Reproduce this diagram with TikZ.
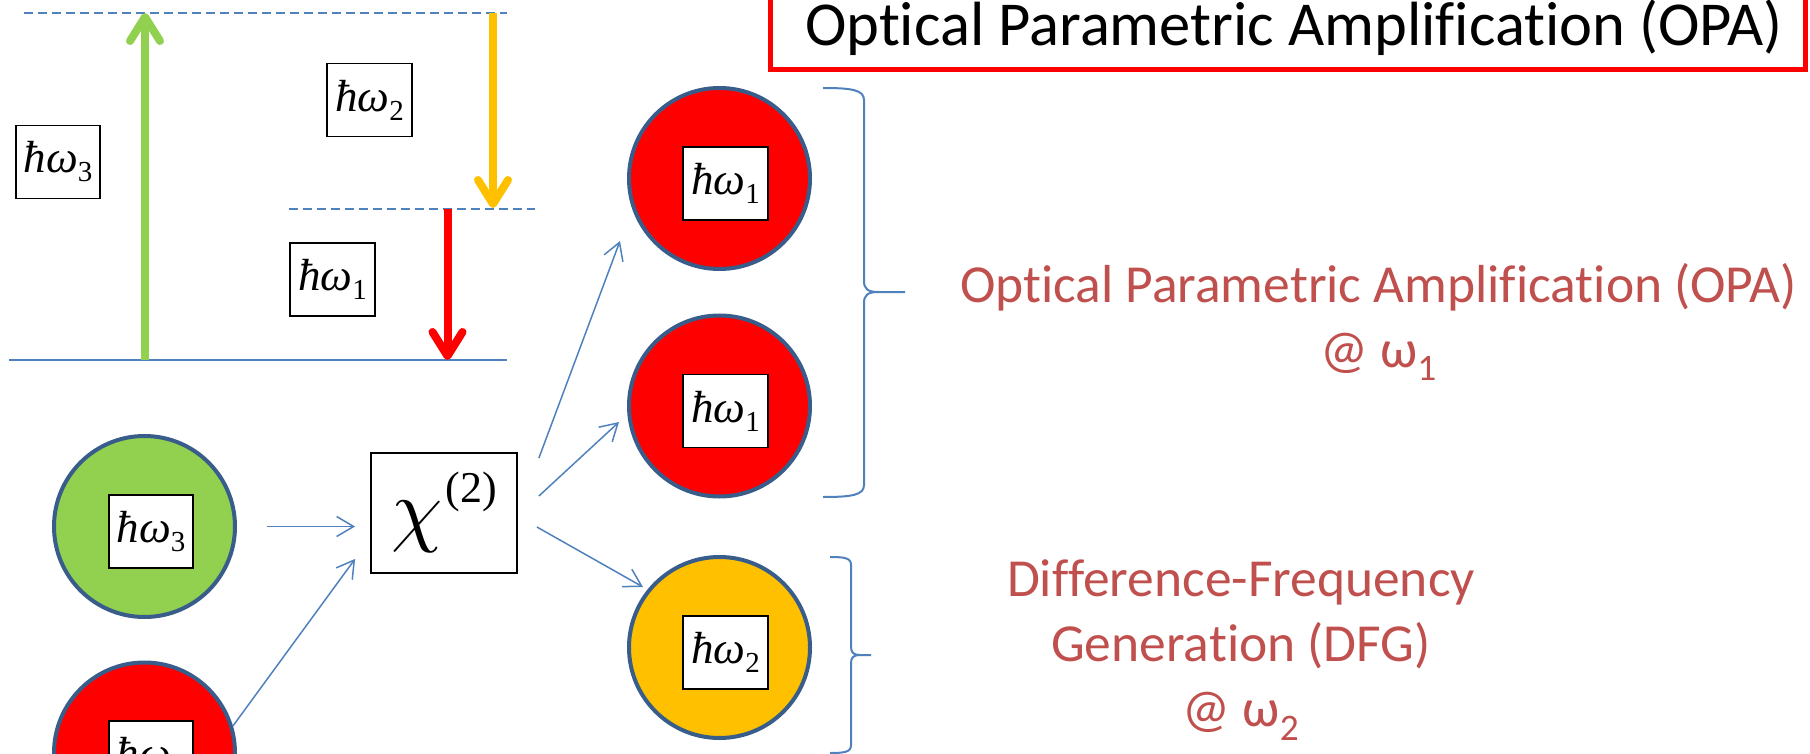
\documentclass[tikz,border=0pt]{standalone}
\usepackage{fontspec}
\usepackage{unicode-math}
\setmainfont{Carlito}[Ligatures=NoCommon]
\setmathfont{Latin Modern Math}
\newfontfamily\timesf{Liberation Serif}
\usetikzlibrary{arrows.meta,calc}

\definecolor{lvlblue}{HTML}{4F81BD}
\definecolor{rimblue}{HTML}{385D8A}
\definecolor{pgreen}{HTML}{92D050}
\definecolor{porange}{HTML}{FFC000}
\definecolor{pred}{HTML}{FF0000}
\definecolor{txtred}{HTML}{C0504D}

\newcommand{\hw}[1]{{\itshape ħω}\raisebox{-9pt}{\fontsize{29}{30}\selectfont #1}}

\begin{document}
\begin{tikzpicture}[
  x=1pt, y=-1pt,
  photon/.style={circle, draw=rimblue, line width=4pt, minimum size=181pt,
                 inner sep=0pt},
  quant/.style={rectangle, draw=black, fill=white, line width=1.8pt,
                minimum height=73pt, inner xsep=8pt, inner ysep=0pt,
                font=\timesf\fontsize{45}{54}\selectfont},
  level/.style={lvlblue, line width=2pt},
  virt/.style={level, dash pattern=on 9pt off 5pt},
  trans/.style={line width=8pt,
                -{Straight Barb[length=24pt, width=30pt, line cap=round, line join=round]}},
  conn/.style={lvlblue, line width=1.5pt, -{Straight Barb[length=17pt, width=20pt]}},
  brace/.style={lvlblue, line width=2pt},
  note/.style={txtred, align=center, font=\fontsize{53.5}{65}\selectfont},
]
  \useasboundingbox (0,0) rectangle (1810,754);

  % Title
  \draw[pred, line width=5pt] (770,-10) rectangle (1805,70);
  \node[font=\fontsize{62.5}{75}\selectfont] (title) at (1294,28)
    {Optical Parametric Amplification (OPA)};

  % Energy levels
  \draw[level] (9,360) -- (507,360);
  \draw[virt] (24,13) -- (507,13);
  \draw[virt] (289,209) -- (535,209);

  \coordinate (pumpA) at (145,360);
  \coordinate (pumpB) at (145,13);
  \coordinate (idlA) at (493,13);
  \coordinate (idlB) at (493,208);
  \coordinate (sigA) at (447.5,209);
  \coordinate (sigB) at (447.5,360);

  \draw[trans, pgreen] (pumpA) -- (pumpB);
  \draw[trans, porange] (idlA) -- (idlB);
  \draw[trans, pred] (sigA) -- (sigB);

  \node[quant] (lvl3) at (58,162) {\hw{3}};
  \node[quant] (lvl2) at (369.5,100) {\hw{2}};
  \node[quant] (lvl1) at (332.5,279.5) {\hw{1}};

  % Input photons
  \node[photon, fill=pgreen] (in3) at (144.5,526.5) {};
  \node[quant] (in3q) at ([shift={(6.5,5)}]in3.center) {\hw{3}};
  \node[photon, fill=pred] (in1) at (144.5,753) {};
  \node[quant] (in1q) at ([shift={(6.5,4.5)}]in1.center) {\hw{1}};

  % Crystal
  \node[rectangle, draw, line width=1.8pt, minimum width=146pt, minimum height=120pt,
        inner sep=0pt, font=\fontsize{82}{96}\selectfont] (chi) at (444,513)
    {$\chi$\hspace{3pt}\raisebox{34pt}{\timesf\fontsize{44}{50}\selectfont(2)}};

  % Output photons
  \node[photon, fill=pred] (out1a) at (719.5,178.5) {};
  \node[quant] (out1aq) at ([shift={(6,5)}]out1a.center) {\hw{1}};
  \node[photon, fill=pred] (out1b) at (719.5,406) {};
  \node[quant] (out1bq) at ([shift={(6,5)}]out1b.center) {\hw{1}};
  \node[photon, fill=porange] (out2) at (719.5,647.5) {};
  \node[quant] (out2q) at ([shift={(6,5)}]out2.center) {\hw{2}};

  % Arrows
  \draw[conn] ([xshift=30pt]in3.east) -- ($(chi.west |- in3.east)+(-15,0)$);
  \draw[conn] (in1.17) -- ($(chi.south west)+(-15,-15)$);
  \draw[conn] ($(chi.east)+(21,-55)$) -- ($(out1a.center)+(-99.5,62.5)$);
  \draw[conn] ($(chi.east)+(21,-17)$) -- ($(out1b.center)+(-100.5,16)$);
  \draw[conn] ($(chi.east)+(19,14)$) -- ($(out2.center)+(-76.5,-60.5)$);

  % Braces
  \draw[brace] (823,88) .. controls (852,88) and (864,90) .. (864,100) -- (864,281)
    .. controls (864,289) and (868,292) .. (878,292) -- (905,292);
  \draw[brace] (878,292) .. controls (868,292) and (864,295) .. (864,303) -- (864,485)
    .. controls (864,495) and (852,497) .. (823,497);
  \draw[brace] (830,557) .. controls (845,557) and (851,558) .. (851,565) -- (851,647)
    .. controls (851,653) and (854,655) .. (860,655) -- (871,655);
  \draw[brace] (860,655) .. controls (854,655) and (851,657) .. (851,663) -- (851,745)
    .. controls (851,752) and (845,753) .. (830,753);

  % Processes
  \node[note] (opa) at (1378.5,322) {Optical Parametric Amplification (OPA)\\@ ω\textsubscript{1}};
  \node[note] (dfg) at (1241,650) {Difference-Frequency\\Generation (DFG)\\@ ω\textsubscript{2}};
\end{tikzpicture}
\end{document}
